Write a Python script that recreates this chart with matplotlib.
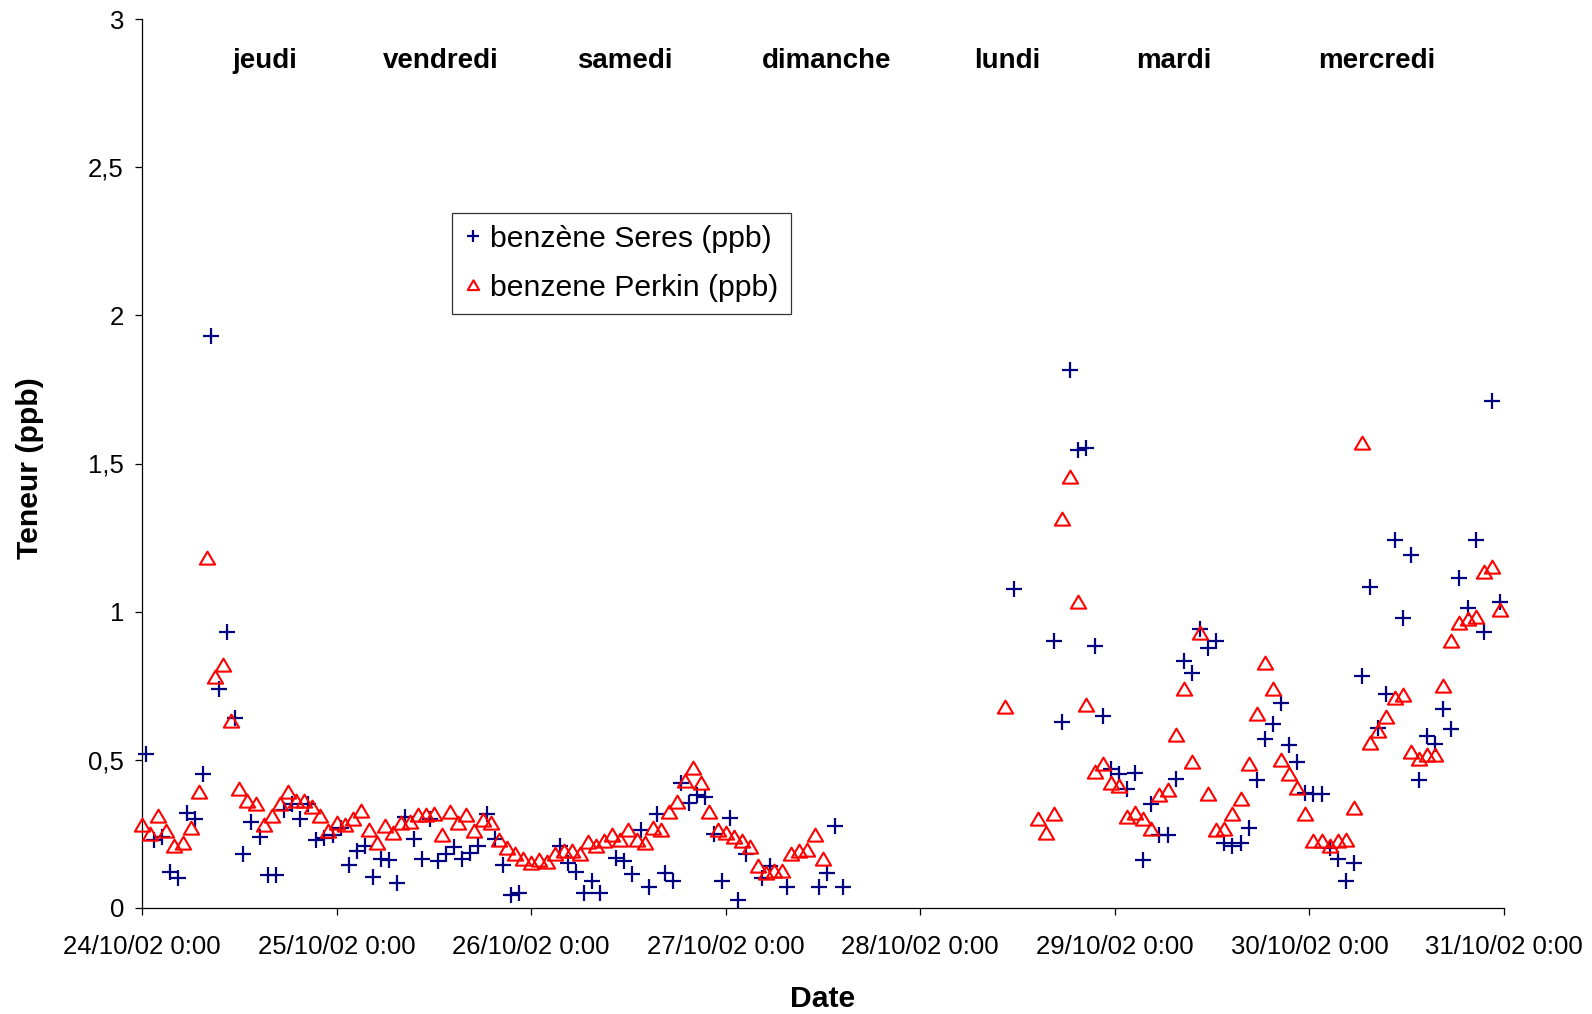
import numpy as np
import matplotlib
matplotlib.use("Agg")
import matplotlib.pyplot as plt
import matplotlib.dates as mdates
from matplotlib.path import Path
from matplotlib.lines import Line2D
from matplotlib.ticker import FuncFormatter, MultipleLocator
from datetime import datetime, timedelta

nan = np.nan

# ---- benzène Perkin (ppb), hourly values ----
# block 1: from 24/10/02 0:00
perkin_24 = [0.28, 0.25, 0.31, 0.26, 0.21, 0.22, 0.27, 0.39, 1.18, 0.78, 0.82, 0.63,
             0.40, 0.36, 0.35, 0.28, 0.31, 0.35, 0.39, 0.36, 0.36, 0.34, 0.31, 0.26]
perkin_25 = [0.287, 0.278, 0.30, 0.326, 0.262, 0.217, 0.276, 0.251, 0.285, 0.289, 0.312, 0.312,
             0.315, 0.244, 0.323, 0.285, 0.312, 0.259, 0.296, 0.285, 0.23, 0.20, 0.18, 0.163]
perkin_26 = [0.152, 0.161, 0.155, 0.183, 0.19, 0.19, 0.183, 0.222, 0.208, 0.225, 0.244, 0.228,
             0.262, 0.23, 0.219, 0.27, 0.262, 0.323, 0.357, 0.428, 0.473, 0.42, 0.323, 0.264]
perkin_27 = [0.253, 0.24, 0.225, 0.205, 0.14, 0.118, 0.125, 0.125, 0.18, 0.19, 0.195, 0.245, 0.163]
# block 2: from 28/10/02 10:30
perkin_28 = [0.678, nan, nan, nan, 0.301, 0.253, 0.317, 1.311, 1.455, 1.033, 0.684, 0.458,
             0.486, 0.42]
perkin_29 = [0.41, 0.307, 0.32, 0.30, 0.267, 0.38, 0.398, 0.583, 0.737, 0.492, 0.928, 0.383,
             0.264, 0.267, 0.315, 0.366, 0.484, 0.653, 0.825, 0.737, 0.50, 0.45, 0.405, 0.315]
perkin_30 = [0.224, 0.224, 0.207, 0.224, 0.23, 0.335, 1.57, 0.557, 0.596, 0.643, 0.709, 0.717,
             0.526, 0.503, 0.517, 0.517, 0.75, 0.90, 0.963, 0.975, 0.982, 1.134, 1.15, 1.005]

# ---- benzène Seres (ppb), hourly values ----
# block 1: from 24/10/02 0:30
seres_24 = [0.52, 0.23, 0.24, 0.12, 0.10, 0.32, 0.30, 0.45, 1.93, 0.74, 0.93, 0.64,
            0.18, 0.29, 0.24, 0.11, 0.11, 0.33, 0.35, 0.30, 0.35, 0.23, 0.236, 0.245]
seres_25 = [0.27, 0.144, 0.19, 0.208, 0.105, 0.165, 0.161, 0.084, 0.307, 0.231, 0.165, 0.298,
            0.158, 0.183, 0.206, 0.165, 0.186, 0.208, 0.315, 0.231, 0.144, 0.042, 0.048, nan]
seres_26 = [nan, nan, nan, 0.208, 0.152, 0.12, 0.048, 0.09, 0.048, nan, 0.169, 0.158,
            0.113, 0.264, 0.071, 0.315, 0.118, 0.09, 0.422, 0.355, 0.38, 0.375, 0.248, 0.09]
seres_27 = [0.304, 0.026, 0.18, nan, 0.10, 0.14, nan, 0.07, nan, nan, nan, 0.07, 0.118, 0.276, 0.07]
# block 2: from 28/10/02 11:30
seres_28 = [1.075, nan, nan, nan, nan, 0.90, 0.627, 1.815, 1.547, 1.552, 0.885, 0.646, 0.47]
seres_29 = [0.45, 0.40, 0.455, 0.16, 0.35, 0.245, 0.247, 0.435, 0.833, 0.793, 0.94, 0.878,
            0.90, 0.22, 0.208, 0.22, 0.27, 0.43, 0.57, 0.622, 0.69, 0.548, 0.492, 0.388]
seres_30 = [0.383, 0.383, 0.2, 0.165, 0.09, 0.152, 0.783, 1.083, 0.608, 0.721, 1.243, 0.978,
            1.192, 0.432, 0.581, 0.554, 0.671, 0.604, 1.115, 1.013, 1.243, 0.931, 1.711, 1.031]

day_names = ["jeudi", "vendredi", "samedi", "dimanche", "lundi", "mardi", "mercredi"]
series_labels = ["benzène Seres (ppb)", "benzene Perkin (ppb)"]


def hourly(start, values):
    t = [start + timedelta(hours=i) for i in range(len(values))]
    return mdates.date2num(t), np.asarray(values, dtype=float)


p1_t, p1_v = hourly(datetime(2002, 10, 24, 0, 0), perkin_24 + perkin_25 + perkin_26 + perkin_27)
p2_t, p2_v = hourly(datetime(2002, 10, 28, 10, 30), perkin_28 + perkin_29 + perkin_30)
s1_t, s1_v = hourly(datetime(2002, 10, 24, 0, 30), seres_24 + seres_25 + seres_26 + seres_27)
s2_t, s2_v = hourly(datetime(2002, 10, 28, 11, 30), seres_28 + seres_29 + seres_30)

perkin_t = np.concatenate([p1_t, p2_t])
perkin_v = np.concatenate([p1_v, p2_v])
seres_t = np.concatenate([s1_t, s2_t])
seres_v = np.concatenate([s1_v, s2_v])

plt.rcParams["font.family"] = ["Liberation Sans", "DejaVu Sans"]

W, H = 1592, 1014
fig = plt.figure(figsize=(W / 100, H / 100), dpi=100)
fig.patch.set_facecolor("white")
ax = fig.add_axes([142 / W, (H - 907.7) / H, 1362 / W, 888.4 / H])

navy = "#000080"
red = "#FF0000"
tri = Path([(-1.0, -0.8), (1.0, -0.8), (0.0, 0.9), (-1.0, -0.8)],
           [Path.MOVETO, Path.LINETO, Path.LINETO, Path.CLOSEPOLY])

ax.plot(seres_t, seres_v, linestyle="none", marker="+", ms=11, mew=1.6,
        color=navy, clip_on=False, zorder=3)
ax.plot(perkin_t, perkin_v, linestyle="none", marker=tri, ms=11, mew=1.5,
        markerfacecolor="none", markeredgecolor=red, clip_on=False, zorder=4)

x0 = mdates.date2num(datetime(2002, 10, 24))
x1 = mdates.date2num(datetime(2002, 10, 31))
ax.set_xlim(x0, x1)
ax.set_ylim(0, 3)

ax.xaxis.set_major_locator(mdates.DayLocator())


def fmt_date(x, pos=None):
    d = mdates.num2date(x)
    return f"{d:%d/%m/%y} {d.hour}:{d:%M}"


ax.xaxis.set_major_formatter(FuncFormatter(fmt_date))
ax.yaxis.set_major_locator(MultipleLocator(0.5))
ax.yaxis.set_major_formatter(FuncFormatter(lambda v, p: f"{v:g}".replace(".", ",")))

for side in ("top", "right"):
    ax.spines[side].set_visible(False)
for side in ("left", "bottom"):
    ax.spines[side].set_color("black")
    ax.spines[side].set_linewidth(0.9)

ax.tick_params(axis="x", direction="out", length=5, width=0.9, pad=15,
               labelsize=18.5, colors="black")
ax.tick_params(axis="y", direction="out", length=5, width=0.9, pad=8,
               labelsize=18.5, colors="black")

ax.set_xlabel("Date", fontsize=21.7, fontweight="bold")
ax.xaxis.label.set_va("center")
ax.xaxis.set_label_coords(0.5, -0.1028)
ax.set_ylabel("Teneur (ppb)", fontsize=21.7, fontweight="bold")
ax.yaxis.label.set_va("center")
ax.yaxis.set_label_coords(-0.0819, 0.495)

day_x = [0.0903, 0.2193, 0.3548, 0.5026, 0.6352, 0.7575, 0.9065]
for name, xf in zip(day_names, day_x):
    ax.text(xf, 0.9531, name, transform=ax.transAxes, ha="center", va="center",
            fontsize=20, fontweight="bold")

handles = [
    Line2D([], [], linestyle="none", marker="+", ms=11, mew=1.6, color=navy),
    Line2D([], [], linestyle="none", marker=tri, ms=11, mew=1.5,
           markerfacecolor="none", markeredgecolor=red),
]
leg = ax.legend(handles, series_labels, loc="upper left",
                bbox_to_anchor=(0.2276, 0.782), borderaxespad=0,
                fontsize=21.7, frameon=True, fancybox=False, markerscale=0.75,
                handlelength=0.6, handletextpad=0.27, borderpad=0.4,
                labelspacing=0.68)
leg.get_frame().set_edgecolor("black")
leg.get_frame().set_linewidth(0.9)

fig.savefig("out.png", dpi=100, facecolor="white")
